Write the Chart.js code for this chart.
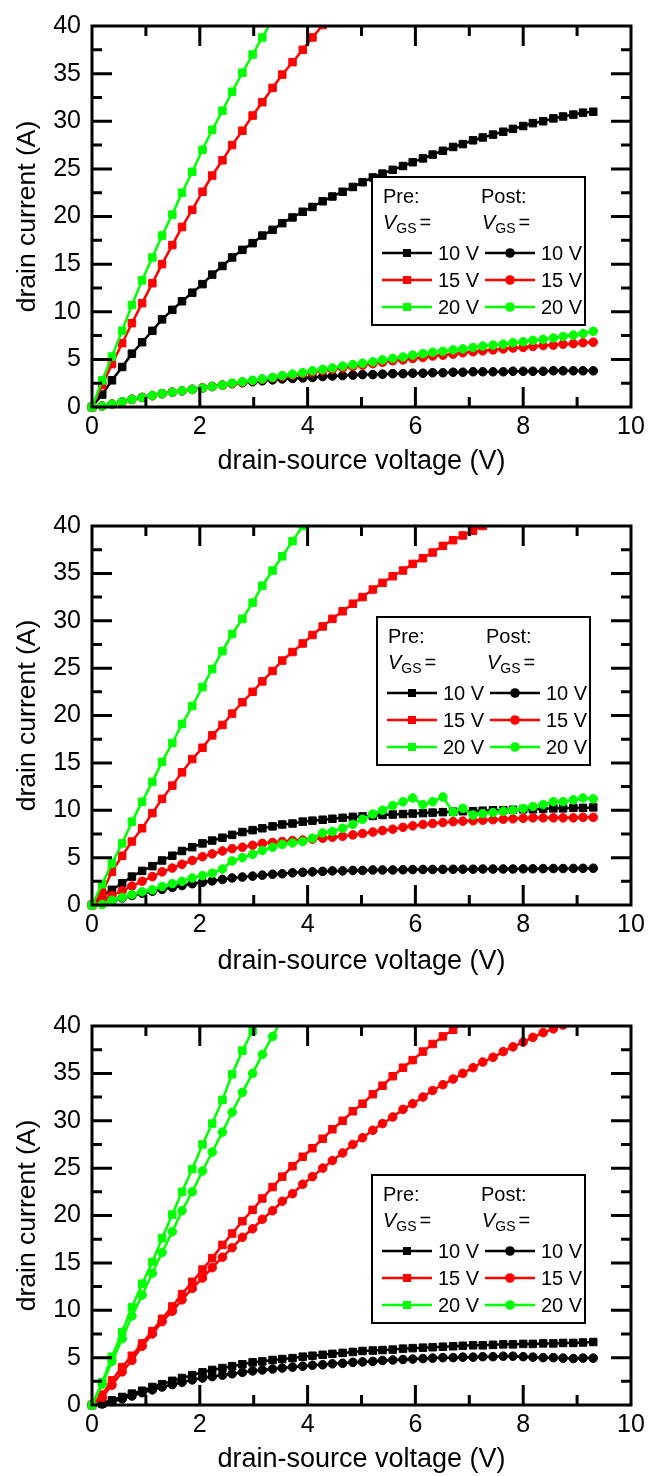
<!DOCTYPE html>
<html><head><meta charset="utf-8">
<script src="https://cdn.jsdelivr.net/npm/chart.js@4.4.0/dist/chart.umd.min.js"></script>
<style>
html,body{margin:0;padding:0;background:#fff;width:664px;height:1476px;overflow:hidden;}
.wrap{position:absolute;left:0;width:664px;}
canvas{display:block;}
</style></head><body>
<div class="wrap" style="top:0;height:500px"><canvas id="c1"></canvas></div>
<div class="wrap" style="top:500px;height:500px"><canvas id="c2"></canvas></div>
<div class="wrap" style="top:1000px;height:476px"><canvas id="c3"></canvas></div>
<script>
const FONT = '"Liberation Sans", Arial, Helvetica, sans-serif';
Chart.defaults.font.family = FONT;
Chart.defaults.color = '#000';

// drain-source voltage sweep (V)
const vds = [0, 0.19, 0.37, 0.56, 0.74, 0.93, 1.12, 1.30, 1.49, 1.67, 1.86, 2.05, 2.23, 2.42, 2.60, 2.79, 2.98, 3.16, 3.35, 3.53, 3.72, 3.91, 4.09, 4.28, 4.46, 4.65, 4.84, 5.02, 5.21, 5.39, 5.58, 5.77, 5.95, 6.14, 6.32, 6.51, 6.70, 6.88, 7.07, 7.25, 7.44, 7.63, 7.81, 8.00, 8.18, 8.37, 8.56, 8.74, 8.93, 9.11, 9.30];

// tick labels / tick positions
const xMajorTicks = [0, 2, 4, 6, 8, 10];
const xMinorTicks = [1, 3, 5, 7, 9];
const yMajorTicks = [0, 5, 10, 15, 20, 25, 30, 35, 40];
const yMinorTicks = [2.5, 7.5, 12.5, 17.5, 22.5, 27.5, 32.5, 37.5];
const legendLabels = ['10 V', '15 V', '20 V'];
const xTitle = 'drain-source voltage (V)';
const yTitle = 'drain current (A)';

// Panel 1 drain current (A)
const p1Pre10 = [0,1.3,2.8,4.2,5.6,6.8,8.0,9.2,10.2,11.1,12.0,12.9,13.9,14.8,15.7,16.5,17.2,18.0,18.6,19.3,19.9,20.5,21.0,21.6,22.1,22.6,23.1,23.6,24.1,24.5,24.9,25.3,25.7,26.1,26.5,26.9,27.3,27.6,28.0,28.3,28.6,28.9,29.2,29.5,29.8,30.0,30.3,30.5,30.7,30.9,31.0];
const p1Pre15 = [0,2.3,4.5,6.7,8.8,10.9,13.0,15.0,17.0,18.9,20.7,22.6,24.3,25.9,27.5,29.0,30.6,32.0,33.5,34.9,36.2,37.5,38.8,40.1];
const p1Pre20 = [0,2.8,5.3,8.0,10.7,13.3,15.7,18.0,20.2,22.5,24.7,27.0,29.1,31.1,33.1,35.1,37.0,38.8,40.7];
const p1Post10 = [0,0.1,0.3,0.55,0.8,1.0,1.2,1.4,1.55,1.7,1.85,2.0,2.15,2.3,2.45,2.55,2.65,2.75,2.85,2.95,3.0,3.05,3.1,3.2,3.25,3.3,3.35,3.4,3.4,3.45,3.5,3.5,3.55,3.55,3.6,3.6,3.65,3.65,3.7,3.7,3.7,3.7,3.75,3.75,3.75,3.75,3.8,3.8,3.8,3.8,3.8];
const p1Post15 = [0,0.1,0.3,0.55,0.8,1.0,1.2,1.4,1.55,1.7,1.85,2.0,2.15,2.3,2.45,2.6,2.75,2.9,3.05,3.2,3.35,3.5,3.65,3.8,3.95,4.1,4.25,4.4,4.55,4.7,4.85,4.95,5.1,5.2,5.35,5.45,5.55,5.7,5.8,5.9,6.0,6.1,6.2,6.25,6.35,6.45,6.5,6.6,6.65,6.75,6.8];
const p1Post20 = [0,0.1,0.3,0.55,0.8,1.0,1.2,1.4,1.55,1.7,1.85,2.0,2.15,2.3,2.5,2.65,2.8,2.95,3.1,3.3,3.45,3.6,3.8,3.95,4.1,4.3,4.45,4.6,4.75,4.95,5.1,5.25,5.45,5.6,5.75,5.85,6.0,6.1,6.25,6.4,6.5,6.6,6.75,6.85,7.0,7.1,7.25,7.4,7.55,7.7,7.95];

// Panel 2
const p2Pre10 = [0,1.0,1.6,2.3,3.0,3.6,4.1,4.7,5.2,5.7,6.1,6.5,6.8,7.1,7.4,7.7,7.9,8.1,8.3,8.5,8.6,8.8,8.9,9.0,9.1,9.2,9.3,9.35,9.4,9.5,9.55,9.6,9.65,9.7,9.75,9.8,9.85,9.9,9.9,9.95,10.0,10.0,10.05,10.1,10.1,10.15,10.2,10.2,10.25,10.25,10.3];
const p2Pre15 = [0,1.3,3.5,5.2,6.7,8.1,9.7,11.2,12.6,14.0,15.4,16.6,17.9,19.0,20.2,21.4,22.5,23.6,24.7,25.8,26.7,27.6,28.5,29.4,30.2,31.0,31.8,32.5,33.3,34.0,34.7,35.3,36.0,36.6,37.2,37.9,38.5,39.0,39.5,40.0];
const p2Pre20 = [0,2.2,4.4,6.5,8.8,10.9,13.0,15.1,17.1,19.1,21.0,23.0,24.9,26.8,28.6,30.2,31.9,33.7,35.3,36.8,38.4,40.0];
const p2Post10 = [0,0.15,0.45,0.75,1.0,1.25,1.45,1.65,1.85,2.05,2.25,2.4,2.55,2.7,2.85,2.95,3.05,3.15,3.25,3.3,3.4,3.45,3.5,3.55,3.6,3.6,3.65,3.65,3.7,3.7,3.7,3.72,3.74,3.75,3.75,3.76,3.77,3.78,3.78,3.8,3.8,3.8,3.8,3.82,3.82,3.84,3.85,3.85,3.86,3.87,3.88];
const p2Post15 = [0,0.4,1.0,1.5,2.0,2.5,3.0,3.5,3.9,4.3,4.7,5.1,5.4,5.7,5.95,6.1,6.3,6.5,6.6,6.7,6.8,6.85,6.95,7.05,7.15,7.25,7.4,7.55,7.7,7.85,8.0,8.2,8.35,8.5,8.6,8.7,8.8,8.85,8.9,8.95,9.0,9.05,9.1,9.15,9.2,9.2,9.2,9.2,9.2,9.25,9.25];
const p2Post20 = [0,0.05,0.5,0.8,1.1,1.4,1.6,1.95,2.25,2.5,2.85,3.1,3.35,3.8,4.65,5.0,5.35,5.75,6.1,6.4,6.55,6.7,7.05,7.6,7.75,8.1,8.5,9.05,9.6,10.0,10.5,10.9,11.3,10.6,10.9,11.4,9.8,10.2,9.5,9.65,9.75,9.9,10.0,10.2,10.4,10.6,10.9,10.9,11.1,11.3,11.2];

// Panel 3
const p3Pre10 = [0,0.15,0.5,0.85,1.2,1.5,1.9,2.2,2.55,2.85,3.15,3.45,3.7,3.9,4.1,4.3,4.5,4.6,4.75,4.85,4.95,5.1,5.2,5.3,5.4,5.5,5.6,5.7,5.75,5.8,5.85,5.95,6.0,6.05,6.1,6.15,6.2,6.25,6.3,6.3,6.35,6.4,6.4,6.45,6.45,6.5,6.5,6.55,6.55,6.6,6.65];
const p3Pre15 = [0,1.1,2.6,4.0,5.2,6.5,7.8,9.1,10.4,11.7,13.0,14.3,15.5,16.9,18.1,19.4,20.6,21.8,23.0,24.1,25.2,26.2,27.1,28.1,29.1,30.0,31.0,31.8,32.8,33.7,34.7,35.6,36.4,37.3,38.1,38.9,39.6,40.3];
const p3Pre20 = [0,2.4,5.1,7.7,10.3,12.8,15.1,17.6,20.1,22.5,24.9,27.5,29.7,32.2,34.9,37.4,39.5];
const p3Post10 = [0,0.1,0.35,0.65,0.95,1.3,1.6,1.9,2.15,2.4,2.65,2.85,3.0,3.15,3.3,3.45,3.6,3.7,3.8,3.9,4.0,4.1,4.2,4.25,4.35,4.4,4.5,4.55,4.6,4.7,4.75,4.8,4.85,4.9,4.95,5.0,5.0,5.05,5.05,5.1,5.1,5.15,5.15,5.1,5.05,5.0,5.0,4.95,4.9,4.95,4.95];
const p3Post15 = [0,0.8,2.1,3.5,4.7,6.2,7.5,8.8,9.9,11.1,12.3,13.4,14.5,15.6,16.6,17.7,18.6,19.6,20.5,21.5,22.3,23.3,24.1,25.0,25.8,26.6,27.5,28.2,29.0,29.7,30.4,31.2,31.8,32.5,33.2,33.8,34.4,35.0,35.6,36.2,36.7,37.3,37.8,38.3,38.8,39.3,39.7,40.1];
const p3Post20 = [0,2.2,4.6,7.0,9.4,11.6,13.9,16.1,18.3,20.5,22.5,24.7,26.7,28.8,30.9,33.0,35.0,37.0,38.9,40.8];

const seriesColors = ['#000000', '#ff0000', '#00ff00'];

function pts(arr) { return arr.map((y, i) => ({ x: vds[i], y })); }

function ds(arr, color, shape) {
  return {
    data: pts(arr),
    borderColor: color,
    backgroundColor: color,
    borderWidth: 2.5,
    pointStyle: shape,
    pointRadius: shape === 'rect' ? 5.3 : 4.3,
    pointBorderWidth: 1,
    pointBorderColor: color,
    pointBackgroundColor: color,
    tension: 0,
    clip: { left: 10, top: 0, right: 10, bottom: 10 }
  };
}

const frame = {
  id: 'frame',
  afterDatasetsDraw(chart) {
    const { ctx, chartArea: a, scales: { x, y } } = chart;
    ctx.save();
    ctx.strokeStyle = '#000';
    ctx.lineWidth = 3;
    ctx.beginPath();
    const inner = (v, lo, hi) => v > lo && v < hi;
    xMajorTicks.filter(v => inner(v, 0, 10)).forEach(v => {
      const p = x.getPixelForValue(v);
      ctx.moveTo(p, a.bottom); ctx.lineTo(p, a.bottom - 20);
      ctx.moveTo(p, a.top); ctx.lineTo(p, a.top + 20);
    });
    xMinorTicks.forEach(v => {
      const p = x.getPixelForValue(v);
      ctx.moveTo(p, a.bottom); ctx.lineTo(p, a.bottom - 10);
      ctx.moveTo(p, a.top); ctx.lineTo(p, a.top + 10);
    });
    yMajorTicks.filter(v => inner(v, 0, 40)).forEach(v => {
      const p = y.getPixelForValue(v);
      ctx.moveTo(a.left, p); ctx.lineTo(a.left + 20, p);
      ctx.moveTo(a.right, p); ctx.lineTo(a.right - 20, p);
    });
    yMinorTicks.forEach(v => {
      const p = y.getPixelForValue(v);
      ctx.moveTo(a.left, p); ctx.lineTo(a.left + 10, p);
      ctx.moveTo(a.right, p); ctx.lineTo(a.right - 10, p);
    });
    ctx.stroke();
    ctx.strokeRect(a.left, a.top, a.right - a.left, a.bottom - a.top);
    ctx.restore();
  }
};

const legendBox = {
  id: 'legendBox',
  afterDraw(chart, args, o) {
    const ctx = chart.ctx, L = o.left, T = o.top, W = 213, H = 148;
    ctx.save();
    ctx.fillStyle = '#fff'; ctx.fillRect(L, T, W, H);
    ctx.lineWidth = 2; ctx.strokeStyle = '#000'; ctx.strokeRect(L, T, W, H);
    ctx.fillStyle = '#000'; ctx.textBaseline = 'middle'; ctx.textAlign = 'left';
    ctx.font = '20px ' + FONT;
    ctx.fillText('Pre:', L + 11, T + 20);
    ctx.fillText('Post:', L + 109, T + 20);
    [L + 11, L + 110].forEach(x0 => {
      ctx.font = 'italic 20px ' + FONT;
      ctx.fillText('V', x0, T + 46);
      const w = ctx.measureText('V').width;
      ctx.font = '14px ' + FONT;
      ctx.fillText('GS', x0 + w, T + 52);
      const g = ctx.measureText('GS').width;
      ctx.font = '20px ' + FONT;
      ctx.fillText('=', x0 + w + g + 3, T + 46);
    });
    legendLabels.forEach((lab, i) => {
      const y = T + 76 + 27 * i, c = seriesColors[i];
      [[L + 10, 'rect'], [L + 113, 'circle']].forEach(([x0, shape]) => {
        ctx.strokeStyle = c; ctx.lineWidth = 2.5;
        ctx.beginPath(); ctx.moveTo(x0, y); ctx.lineTo(x0 + 50, y); ctx.stroke();
        ctx.fillStyle = c;
        if (shape === 'rect') ctx.fillRect(x0 + 25 - 4, y - 4, 8, 8);
        else { ctx.beginPath(); ctx.arc(x0 + 25, y, 4.8, 0, Math.PI * 2); ctx.fill(); }
        ctx.fillStyle = '#000'; ctx.font = '20px ' + FONT;
        ctx.fillText(lab, x0 + 56, y + 1);
      });
    });
    ctx.restore();
  }
};

function makeChart(id, s, cfg) {
  new Chart(document.getElementById(id), {
    type: 'line',
    data: {
      datasets: [
        ds(s.post20, seriesColors[2], 'circle'),
        ds(s.post15, seriesColors[1], 'circle'),
        ds(s.post10, seriesColors[0], 'circle'),
        ds(s.pre20, seriesColors[2], 'rect'),
        ds(s.pre15, seriesColors[1], 'rect'),
        ds(s.pre10, seriesColors[0], 'rect')
      ]
    },
    options: {
      responsive: true, maintainAspectRatio: false, animation: false, devicePixelRatio: 1,
      events: [],
      layout: { padding: { left: 0, right: 33, top: 20, bottom: 0 } },
      plugins: { legend: { display: false }, tooltip: { enabled: false }, legendBox: { left: cfg.legL, top: cfg.legT } },
      scales: {
        x: {
          type: 'linear', min: 0, max: 10,
          ticks: { stepSize: 2, font: { size: 25 }, color: '#000', padding: 5, maxRotation: 0, autoSkip: false },
          grid: { display: false, drawTicks: false }, border: { display: false },
          title: { display: true, text: xTitle, color: '#000', font: { size: 27, lineHeight: 1 }, padding: { top: 0, bottom: cfg.xTitlePad } },
          afterFit(sc) { sc.height = cfg.xh; }
        },
        y: {
          type: 'linear', min: 0, max: 40,
          ticks: { stepSize: 5, font: { size: 25 }, color: '#000', padding: 11, autoSkip: false },
          grid: { display: false, drawTicks: false }, border: { display: false },
          title: { display: true, text: yTitle, color: '#000', font: { size: 26.5, lineHeight: 1 }, padding: { top: 14, bottom: 0 } },
          afterFit(sc) { sc.width = 92; }
        }
      }
    },
    plugins: [frame, legendBox]
  });
}

makeChart('c1', { pre10: p1Pre10, pre15: p1Pre15, pre20: p1Pre20, post10: p1Post10, post15: p1Post15, post20: p1Post20 },
  { xh: 93, xTitlePad: 25, legL: 372, legT: 177 });
makeChart('c2', { pre10: p2Pre10, pre15: p2Pre15, pre20: p2Pre20, post10: p2Post10, post15: p2Post15, post20: p2Post20 },
  { xh: 95, xTitlePad: 25, legL: 377, legT: 117 });
makeChart('c3', { pre10: p3Pre10, pre15: p3Pre15, pre20: p3Pre20, post10: p3Post10, post15: p3Post15, post20: p3Post20 },
  { xh: 71, xTitlePad: 3, legL: 372, legT: 175 });
</script>
</body></html>
